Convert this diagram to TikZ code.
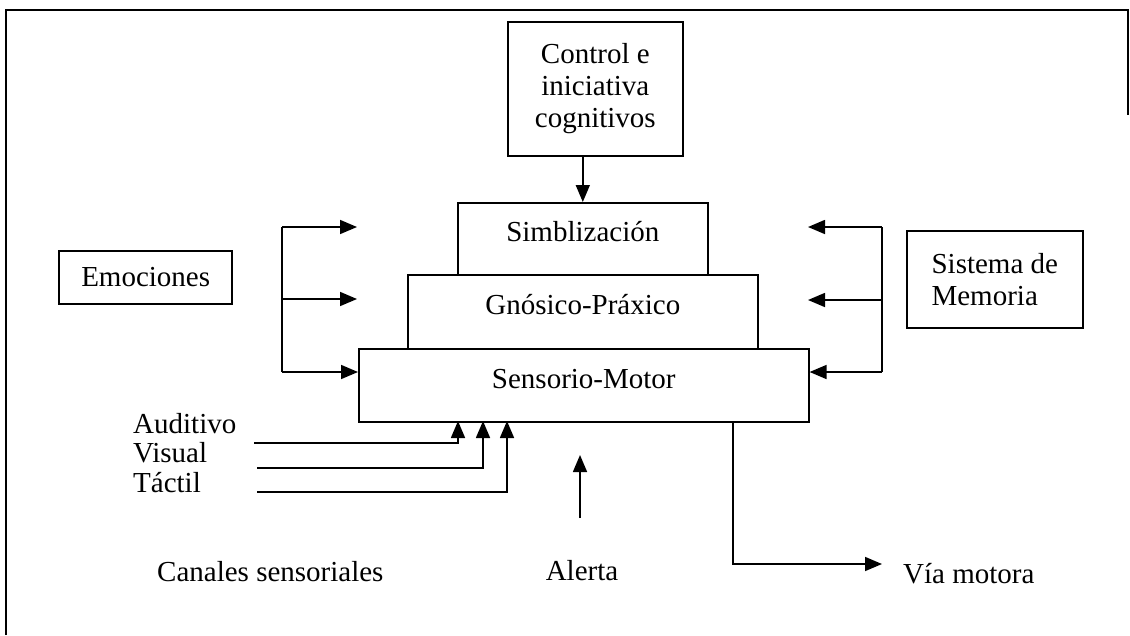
\documentclass[tikz,border=0pt]{standalone}
\usepackage{fontspec}
\setmainfont{Liberation Serif}
\usetikzlibrary{arrows.meta}
\begin{document}
\begin{tikzpicture}[x=1pt,y=-1pt,
  every node/.style={font=\fontsize{29}{32}\selectfont, inner sep=0pt},
  box/.style={draw, line width=1.6pt},
  lev/.style={box, text height=20pt, text depth=14pt},
  ln/.style={line width=1.6pt},
  arr/.style={ln, -{Triangle[length=17pt,width=14pt]}}]
\useasboundingbox (0,0) rectangle (1130,635);
% frame
\draw[ln] (6,635) -- (6,10) -- (1128,10) -- (1128,115);
% boxes
\node[box, minimum width=175pt, minimum height=134pt, align=center, anchor=north west] (ctrl) at (507,21) {Control e\\iniciativa\\cognitivos};
\node[lev, minimum width=250pt, minimum height=72pt, anchor=north west] (simb) at (457,202) {Simblización};
\node[lev, minimum width=350pt, minimum height=74pt, anchor=north west] (gnos) at (407,274) {Gnósico-Práxico};
\node[lev, minimum width=450pt, minimum height=73pt, anchor=north west] (sens) at (358,348) {Sensorio-Motor};
\node[box, minimum width=173pt, minimum height=53pt, anchor=north east] (emo) at (233,250) {Emociones};
\node[box, minimum width=176pt, minimum height=97pt, align=left, anchor=north west] (mem) at (906,230) {Sistema de\\Memoria};
% control arrow
\draw[arr] (simb.north |- ctrl.south) -- (simb.north);
% left bracket
\coordinate (lb1) at (282,227);
\coordinate (lb2) at (282,299);
\coordinate (lb3) at (282,372);
\coordinate (la1) at (357,227);
\coordinate (la2) at (357,299);
\draw[ln] (lb1) -- (lb3);
\draw[arr] (lb1) -- (la1);
\draw[arr] (lb2) -- (la2);
\draw[arr] (lb3) -- (lb3 -| sens.west);
% right bracket
\coordinate (rb1) at (882,227);
\coordinate (rb2) at (882,300);
\coordinate (rb3) at (882,372);
\coordinate (ra1) at (808,227);
\coordinate (ra2) at (808,300);
\draw[ln] (rb1) -- (rb3);
\draw[arr] (rb1) -- (ra1);
\draw[arr] (rb2) -- (ra2);
\draw[arr] (rb3) -- (rb3 -| sens.east);
% sensory channels
\node[anchor=base west] (laud) at (133,433) {Auditivo};
\node[anchor=base west] (lvis) at (133,462) {Visual};
\node[anchor=base west] (ltac) at (133,492) {Táctil};
\coordinate (aud) at (254,443);
\coordinate (vis) at (257,468);
\coordinate (tac) at (257,492);
\coordinate (in1) at (458,421);
\coordinate (in2) at (483,421);
\coordinate (in3) at (507,421);
\draw[arr] (aud) -| (in1);
\draw[arr] (vis) -| (in2);
\draw[arr] (tac) -| (in3);
\node[anchor=base west] (can) at (157,581) {Canales sensoriales};
% alerta
\node[anchor=base] (alert) at (582,580) {Alerta};
\coordinate (al0) at (580,518);
\coordinate (al1) at (580,455);
\draw[arr] (al0) -- (al1);
% via motora
\coordinate (vm0) at (733,421);
\coordinate (vm1) at (882,564);
\draw[arr] (vm0) |- (vm1);
\node[anchor=base west] (via) at (903,583) {Vía motora};
\end{tikzpicture}
\end{document}
